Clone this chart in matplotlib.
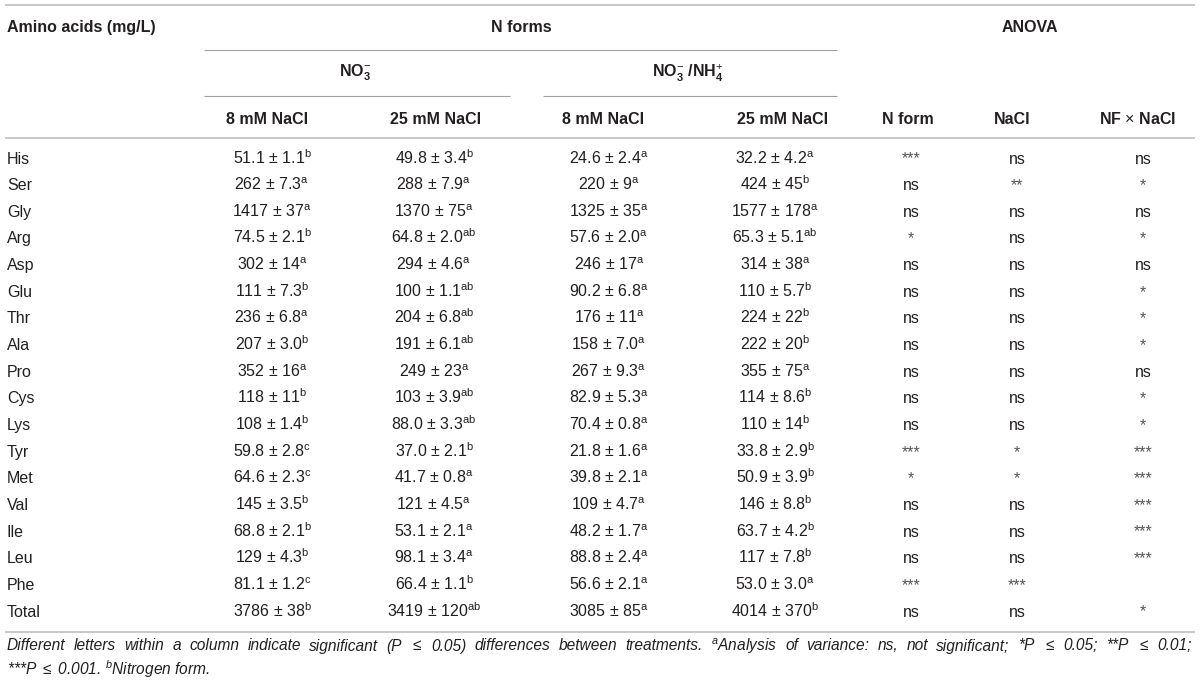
import matplotlib
matplotlib.use("Agg")
import matplotlib.pyplot as plt

plt.rcParams['font.family'] = ['Liberation Sans', 'DejaVu Sans']
plt.rcParams['mathtext.fontset'] = 'custom'
plt.rcParams['mathtext.rm'] = 'Liberation Sans'
plt.rcParams['mathtext.it'] = 'Liberation Sans:italic'
plt.rcParams['mathtext.bf'] = 'Liberation Sans:bold'

amino = ['His', 'Ser', 'Gly', 'Arg', 'Asp', 'Glu', 'Thr', 'Ala', 'Pro', 'Cys',
         'Lys', 'Tyr', 'Met', 'Val', 'Ile', 'Leu', 'Phe', 'Total']

# NO3-, 8 mM NaCl
no3_8_mean = ['51.1', '262', '1417', '74.5', '302', '111', '236', '207', '352', '118',
              '108', '59.8', '64.6', '145', '68.8', '129', '81.1', '3786']
no3_8_se = ['1.1', '7.3', '37', '2.1', '14', '7.3', '6.8', '3.0', '16', '11',
            '1.4', '2.8', '2.3', '3.5', '2.1', '4.3', '1.2', '38']
no3_8_let = ['b', 'a', 'a', 'b', 'a', 'b', 'a', 'b', 'a', 'b',
             'b', 'c', 'c', 'b', 'b', 'b', 'c', 'b']
# NO3-, 25 mM NaCl
no3_25_mean = ['49.8', '288', '1370', '64.8', '294', '100', '204', '191', '249', '103',
               '88.0', '37.0', '41.7', '121', '53.1', '98.1', '66.4', '3419']
no3_25_se = ['3.4', '7.9', '75', '2.0', '4.6', '1.1', '6.8', '6.1', '23', '3.9',
             '3.3', '2.1', '0.8', '4.5', '2.1', '3.4', '1.1', '120']
no3_25_let = ['b', 'a', 'a', 'ab', 'a', 'ab', 'ab', 'ab', 'a', 'ab',
              'ab', 'b', 'a', 'a', 'a', 'a', 'b', 'ab']
# NO3-/NH4+, 8 mM NaCl
mix_8_mean = ['24.6', '220', '1325', '57.6', '246', '90.2', '176', '158', '267', '82.9',
              '70.4', '21.8', '39.8', '109', '48.2', '88.8', '56.6', '3085']
mix_8_se = ['2.4', '9', '35', '2.0', '17', '6.8', '11', '7.0', '9.3', '5.3',
            '0.8', '1.6', '2.1', '4.7', '1.7', '2.4', '2.1', '85']
mix_8_let = ['a', 'a', 'a', 'a', 'a', 'a', 'a', 'a', 'a', 'a',
             'a', 'a', 'a', 'a', 'a', 'a', 'a', 'a']
# NO3-/NH4+, 25 mM NaCl
mix_25_mean = ['32.2', '424', '1577', '65.3', '314', '110', '224', '222', '355', '114',
               '110', '33.8', '50.9', '146', '63.7', '117', '53.0', '4014']
mix_25_se = ['4.2', '45', '178', '5.1', '38', '5.7', '22', '20', '75', '8.6',
             '14', '2.9', '3.9', '8.8', '4.2', '7.8', '3.0', '370']
mix_25_let = ['a', 'b', 'a', 'ab', 'a', 'b', 'b', 'b', 'a', 'b',
              'b', 'b', 'b', 'b', 'b', 'b', 'a', 'b']

# ANOVA
sig_nform = ['***', 'ns', 'ns', '*', 'ns', 'ns', 'ns', 'ns', 'ns', 'ns',
             'ns', '***', '*', 'ns', 'ns', 'ns', '***', 'ns']
sig_nacl = ['ns', '**', 'ns', 'ns', 'ns', 'ns', 'ns', 'ns', 'ns', 'ns',
            'ns', '*', '*', 'ns', 'ns', 'ns', '***', 'ns']
sig_inter = ['ns', '*', 'ns', '*', 'ns', '*', '*', '*', 'ns', '*',
             '*', '***', '***', '***', '***', '***', '', '*']

col_heads = ['8 mM NaCl', '25 mM NaCl', '8 mM NaCl', '25 mM NaCl', 'N form', 'NaCl', r'NF $\times$ NaCl']

foot1 = (r"Different letters within a column indicate significant (P $\leq$ 0.05) differences "
         r"between treatments. $^{a}$Analysis of variance: ns, not significant; "
         r"*P $\leq$ 0.05; **P $\leq$ 0.01;")
foot2 = r"***P $\leq$ 0.001. $^{b}$Nitrogen form."

TXT = '#231f20'
fig = plt.figure(figsize=(12, 6.85), dpi=100)
ax = fig.add_axes([0, 0, 1, 1])
ax.set_xlim(0, 1200)
ax.set_ylim(685, 0)
ax.axis('off')

fs = 11.5
hkw = dict(fontsize=fs, fontweight='bold', color=TXT, va='center')

# rules
ax.hlines([5, 138, 632], 5, 1195, color='#c4c4c4', lw=1.3)
ax.hlines(49.5, 204, 837, color='#a0a0a0', lw=0.8)
ax.hlines(96, 204, 510, color='#a0a0a0', lw=0.8)
ax.hlines(96, 543, 837, color='#a0a0a0', lw=0.8)

# headers
ax.text(7, 27, 'Amino acids (mg/L)', ha='left', **hkw)
ax.text(521, 27, 'N forms', ha='center', **hkw)
ax.text(1030, 27, 'ANOVA', ha='center', **hkw)
ax.text(355, 73, r'NO$_{\mathbf{3}}^{-}$', ha='center', **hkw)
ax.text(688, 73, r'NO$_{\mathbf{3}}^{-}$ /NH$_{\mathbf{4}}^{+}$', ha='center', **hkw)
head_x = [267, 436, 603, 783, 908, 1012, 1137]
for x, h in zip(head_x, col_heads):
    ax.text(x, 119, h, ha='center', **hkw)

# body
val_x = [272, 434, 609, 775]
sig_x = [911, 1017, 1143]
treat = [(no3_8_mean, no3_8_se, no3_8_let), (no3_25_mean, no3_25_se, no3_25_let),
         (mix_8_mean, mix_8_se, mix_8_let), (mix_25_mean, mix_25_se, mix_25_let)]
sigs = [sig_nform, sig_nacl, sig_inter]
for i, name in enumerate(amino):
    yb = 158 + i * 26.65 + 5.5
    ax.text(7, yb, name, ha='left', va='baseline', fontsize=fs, color=TXT)
    for x, (m, s, l) in zip(val_x, treat):
        cell = m[i] + ' ± ' + s[i] + r'$^{\mathrm{' + l[i] + '}}$'
        ax.text(x, yb, cell, ha='center', va='baseline', fontsize=fs, color=TXT)
    for x, sg in zip(sig_x, sigs):
        if sg[i]:
            c = '#555555' if '*' in sg[i] else TXT
            ax.text(x, yb, sg[i], ha='center', va='baseline', fontsize=fs, color=c)

# footnote, first line justified
r = fig.canvas.get_renderer()
words = foot1.split(' ')
merged = []
k = 0
while k < len(words):
    w = words[k]
    if w.count('$') % 2 == 1:
        w = w + ' ' + words[k + 1]
        k += 1
    merged.append(w)
    k += 1
fkw = dict(fontsize=11.2, style='italic', color=TXT, va='baseline', ha='left')
ts = [ax.text(0, 650.5, w, **fkw) for w in merged]
widths = [t.get_window_extent(r).width for t in ts]
gap = (1192 - 7 - sum(widths)) / (len(ts) - 1)
x = 7
for t, w in zip(ts, widths):
    t.set_x(x)
    x += w + gap
ax.text(7, 675.5, foot2, **fkw)

plt.savefig('out.png', dpi=100)
plt.close()
